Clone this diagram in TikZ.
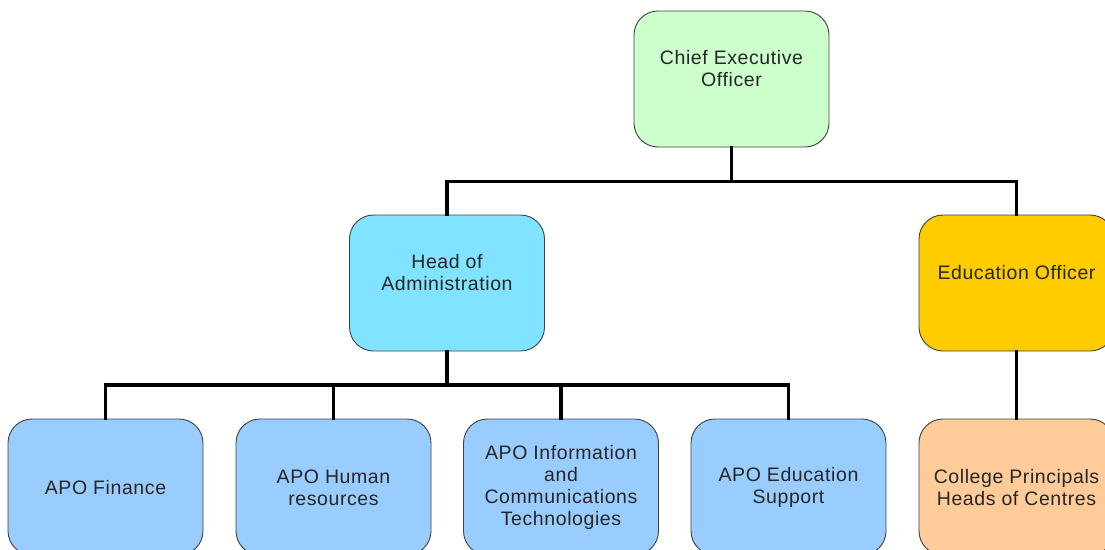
\documentclass[tikz,border=0pt]{standalone}
\usepackage{fontspec}
\setmainfont{Liberation Sans}[LetterSpace=3]
\begin{document}
\begin{tikzpicture}[x=1pt,y=-1pt,
  box/.style={draw=black!75, line width=0.9pt, rounded corners=24pt,
    minimum width=195pt, minimum height=136pt, inner sep=0pt},
  lbl/.style={align=center, text=black!85, font=\fontsize{19.5}{22}\selectfont, inner sep=0pt},
  conn/.style={line width=3.6pt, black, line cap=rect}]
\useasboundingbox (0,0) rectangle (1105,549);
\clip (0,0) rectangle (1105,549);
\definecolor{ceoc}{HTML}{CCFFCC}
\definecolor{hoac}{HTML}{80E3FF}
\definecolor{eduo}{HTML}{FFCC00}
\definecolor{apoc}{HTML}{99CCFF}
\definecolor{colc}{HTML}{FFCC99}
% boxes
\node[box, fill=ceoc] (ceo) at (731.5,79) {};
\node[box, fill=hoac] (hoa) at (447,283) {};
\node[box, fill=eduo] (edu) at (1016.5,283) {};
\node[box, fill=apoc] (fin) at (105.5,487) {};
\node[box, fill=apoc] (hr)  at (333.5,487) {};
\node[box, fill=apoc] (ict) at (561,487) {};
\node[box, fill=apoc] (eds) at (788.5,487) {};
\node[box, fill=colc] (col) at (1016.5,487) {};
% texts
\node[lbl] (tceo) at (731.5,68.5) {Chief Executive\\Officer};
\node[lbl] (thoa) at (447,272.5) {Head of\\Administration};
\node[lbl] (tedu) at (1016.5,272.5) {Education Officer};
\node[lbl] (tfin) at (105.5,487.5) {APO Finance};
\node[lbl] (thr)  at (333.5,487.5) {APO Human\\resources};
\node[lbl] (tict) at (561,487.5) {APO Information\\and\\Communications\\Technologies};
\node[lbl] (teds) at (788.5,487.5) {APO Education\\Support};
\node[lbl] (tcol) at (1016.5,487.5) {College Principals\\Heads of Centres};
% connectors
\coordinate (j1) at (731.5,181.5);
\coordinate (j2) at (447,385);
\draw[conn] (ceo.south) -- (j1);
\draw[conn] (j1) -| (hoa.north);
\draw[conn] (j1) -| (edu.north);
\draw[conn] (hoa.south) -- (j2);
\draw[conn] (j2) -| (fin.north);
\draw[conn] (j2) -| (hr.north);
\draw[conn] (j2) -| (ict.north);
\draw[conn] (j2) -| (eds.north);
\draw[conn] (edu.south) -- (col.north);
\end{tikzpicture}
\end{document}
